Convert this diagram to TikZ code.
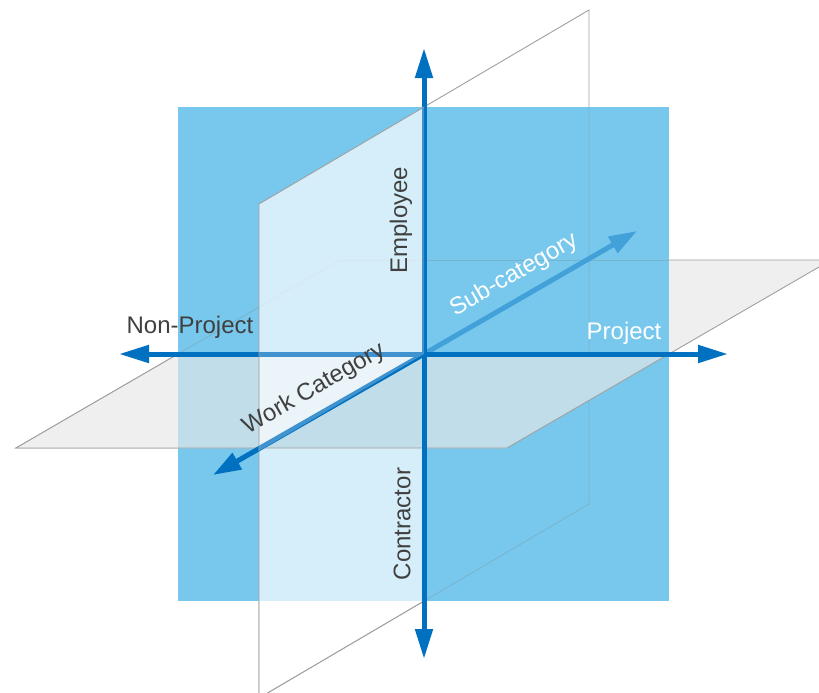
\documentclass[tikz,border=0pt]{standalone}
\usepackage{fontspec}
\setmainfont{Liberation Sans}
\usetikzlibrary{arrows.meta}
\definecolor{sq}{HTML}{77C8EC}
\definecolor{axb}{HTML}{0070C0}
\definecolor{subb}{HTML}{42A1D9}
\definecolor{hp}{HTML}{EFEFEF}
\definecolor{hpb}{HTML}{C0DDE9}
\definecolor{edgec}{HTML}{A0A0A0}
\definecolor{txt}{HTML}{404040}
\begin{document}
\begin{tikzpicture}[x=1pt,y=-1pt,
  edgeline/.style={draw=edgec, line width=0.9pt},
  faint/.style={draw=gray, opacity=0.3, line width=0.8pt},
  axisline/.style={line width=5pt, draw=axb, -{Triangle[length=30pt,width=17pt]}},
  diagline/.style={line width=5pt, -{Triangle[length=28pt,width=18pt]}},
  lbl/.style={font=\fontsize{24pt}{28pt}\selectfont, inner sep=0pt},
  darklbl/.style={lbl, text=txt},
  whitelbl/.style={lbl, text=white}]
\useasboundingbox (0,0) rectangle (819,693);
% coordinates
\coordinate (O) at (424,354);
\coordinate (top) at (424,48);
\coordinate (bot) at (424,659);
\coordinate (lft) at (119,354);
\coordinate (rgt) at (728,354);
\coordinate (bk) at (637,231);
\coordinate (fr) at (213,475);
% back parts (full planes)
\fill[hp] (16,448) -- (340,260) -- (831,260) -- (507,448) -- cycle;
\draw[edgeline] (16,448) -- (340,260) -- (831,260) -- (507,448) -- cycle;
\fill[white] (259,204) -- (589,10) -- (589,504) -- (259,698) -- cycle;
\draw[edgeline] (259,204) -- (589,10) -- (589,504) -- (259,698) -- cycle;
% blue square
\fill[sq] (178,107) rectangle (669,601);
% faint hidden edges
\draw[faint] (340,260) -- (669,260);
\draw[faint] (589,107) -- (589,504) -- (424,601);
\draw[faint] (178,354) -- (340,260);
% sub-category arrow (behind)
\draw[diagline, draw=subb] (O) -- (bk);
% vertical plane lower-front quadrant
\fill[white, opacity=0.7] (424,354) -- (424,601) -- (259,698) -- (259,451) -- cycle;
\draw[edgeline] (259,451) -- (259,698) -- (424,601);
% horizontal plane front half
\fill[hp] (178,354) -- (669,354) -- (507,448) -- (16,448) -- cycle;
\begin{scope}
  \clip (178,107) rectangle (669,601);
  \fill[hpb] (178,354) -- (669,354) -- (507,448) -- (16,448) -- cycle;
\end{scope}
\draw[edgeline] (178,354) -- (16,448) -- (507,448) -- (669,354);
\draw[faint] (259,354) -- (259,448);
% vertical plane upper-front quadrant
\fill[white, opacity=0.6] (424,107) -- (424,354) -- (259,451) -- (259,204) -- cycle;
% axes
\draw[axisline] (O) -- (top);
\draw[axisline] (O) -- (bot);
\draw[axisline] (O) -- (lft);
\draw[axisline] (O) -- (rgt);
\draw[diagline, draw=axb] (O) -- (fr);
% thin veil of the upper-front quadrant over the axes
\fill[white, opacity=0.25] (424,107) -- (424,354) -- (259,451) -- (259,204) -- cycle;
\draw[edgeline] (424,107) -- (259,204) -- (259,451);
% labels
\node[darklbl, rotate=90] (emp) at (401,220) {Employee};
\node[darklbl, rotate=90] (con) at (402,524) {Contractor};
\node[darklbl, anchor=base] (np) at (190,333) {Non-Project};
\node[whitelbl, anchor=base] (pr) at (624,339) {Project};
\node[whitelbl, rotate=30] (sc) at (514,275) {Sub-category};
\node[darklbl, rotate=30] (wc) at (314,389) {Work Category};
\end{tikzpicture}
\end{document}
